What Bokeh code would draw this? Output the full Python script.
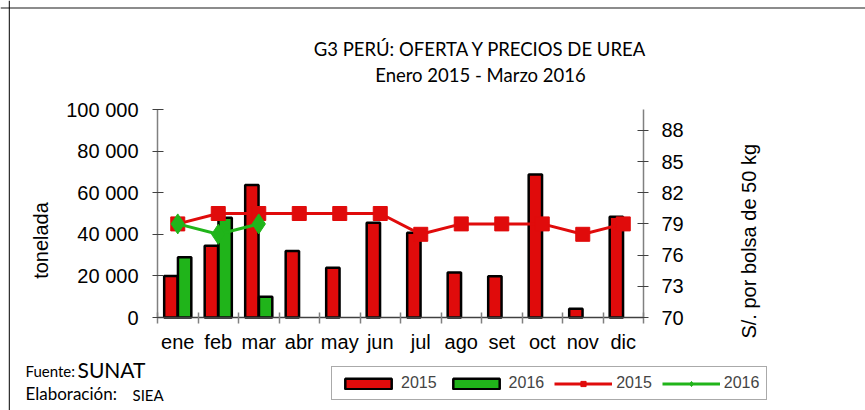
import math
from bokeh.plotting import figure
from bokeh.models import (ColumnDataSource, Range1d, LinearAxis, FixedTicker, Label,
                          Legend, LegendItem, Span)
from bokeh.embed import file_html
from bokeh.resources import INLINE

months = ["ene", "feb", "mar", "abr", "may", "jun", "jul", "ago", "set", "oct", "nov", "dic"]
oferta_2015 = [20000, 34500, 63700, 32000, 23900, 45600, 40800, 21600, 19800, 68700, 4200, 48400]
oferta_2016 = [29000, 47900, 10000]
precio_2015 = [79, 80, 80, 80, 80, 80, 78, 79, 79, 79, 78, 79]
precio_2016 = [79, 78, 79]
left_ticks = [0, 20000, 40000, 60000, 80000, 100000]
left_labels = ["0", "20 000", "40 000", "60 000", "80 000", "100 000"]
right_ticks = [70, 73, 76, 79, 82, 85, 88]

RED = "#E00B0B"
GREEN = "#20B41A"
AX = "#808080"

W, H = 865, 410
# pixel geometry of the plotting area (page pixels)
FL, FR, FT, FB = 157.0, 643.0, 109.0, 317.0
XU = (FR - FL) / 12.0            # px per month
YU = (FB - FT) / 100000.0        # px per tonne
PU = (FB - FT) / 20.0            # px per sol

x_range = Range1d(-FL / XU, (W - FL) / XU)
y_range = Range1d(-(H - FB) / YU, FB / YU)
p_range = Range1d(70 - (H - FB) / PU, 70 + FB / PU)

xc = [i + 0.5 for i in range(len(months))]
src15 = ColumnDataSource(dict(x=[v - 0.17 for v in xc], xc=xc, y=oferta_2015, p=precio_2015))
src16 = ColumnDataSource(dict(x=[v + 0.17 for v in xc[:len(oferta_2016)]],
                              xc=xc[:len(oferta_2016)], y=oferta_2016, p=precio_2016))

p = figure(width=W, height=H, output_backend="svg", toolbar_location=None,
           x_range=x_range, y_range=y_range,
           min_border=0, min_border_left=0, min_border_right=0, min_border_top=0, min_border_bottom=0)
p.title.visible = False
p.extra_y_ranges = {"precio": p_range}
p.xgrid.visible = False
p.ygrid.visible = False
p.outline_line_color = None
p.background_fill_color = "white"
p.border_fill_color = "white"


def px(page_x):
    return (page_x - FL) / XU


def py(page_y):
    return (FB - page_y) / YU


# frame lines of the picture
p.add_layout(Span(location=py(7.5), dimension="width", line_color="#8c8c8c", line_width=2))
p.add_layout(Span(location=px(8.8), dimension="height", line_color="black", line_width=1))

r15 = p.vbar(x="x", top="y", width=0.33, source=src15, fill_color=RED, line_color="black", line_width=2.5)
r16 = p.vbar(x="x", top="y", width=0.33, source=src16, fill_color=GREEN, line_color="black", line_width=2.5)

l15 = p.line(x="xc", y="p", source=src15, y_range_name="precio", line_color=RED, line_width=3)
m15 = p.scatter(x="xc", y="p", source=src15, y_range_name="precio", marker="square", size=14,
                fill_color=RED, line_color=RED)
l16 = p.line(x="xc", y="p", source=src16, y_range_name="precio", line_color=GREEN, line_width=3)
m16 = p.scatter(x="xc", y="p", source=src16, y_range_name="precio", marker="diamond", size=20,
                fill_color=GREEN, line_color=GREEN)

# x axis
xa = p.xaxis[0]
xa.fixed_location = 0
xa.bounds = (0, 12)
xa.ticker = FixedTicker(ticks=xc, minor_ticks=list(range(0, 13)))
xa.major_label_overrides = {v: m for v, m in zip(xc, months)}
xa.major_tick_line_color = None
xa.major_tick_out = 0
xa.major_tick_in = 0
xa.minor_tick_line_color = AX
xa.minor_tick_in = 5
xa.minor_tick_out = 6
xa.minor_tick_line_width = 1.5
xa.axis_line_color = "#404040"
xa.axis_line_width = 1.5
xa.major_label_text_font = "Liberation Sans"
xa.major_label_text_font_size = "20px"
xa.major_label_text_color = "black"
xa.major_label_standoff = 7

# left axis
ya = p.yaxis[0]
ya.fixed_location = 0
ya.bounds = (0, 100000)
ya.ticker = FixedTicker(ticks=left_ticks)
ya.minor_tick_line_color = None
ya.major_label_overrides = {t: s for t, s in zip(left_ticks, left_labels)}
ya.axis_line_color = AX
ya.axis_line_width = 1.5
ya.major_tick_line_color = "#404040"
ya.major_tick_in = 6
ya.major_tick_out = 5
ya.major_label_text_font = "Liberation Sans"
ya.major_label_text_font_size = "20px"
ya.major_label_text_color = "black"
ya.major_label_standoff = 14

# right axis
ra = LinearAxis(y_range_name="precio", ticker=FixedTicker(ticks=right_ticks))
ra.fixed_location = 12
ra.bounds = (70, 90)
ra.minor_tick_line_color = None
ra.axis_line_color = AX
ra.axis_line_width = 1.5
ra.major_tick_line_color = "#404040"
ra.major_tick_in = 6
ra.major_tick_out = 5
ra.major_label_text_font = "Liberation Sans"
ra.major_label_text_font_size = "20px"
ra.major_label_text_color = "black"
ra.major_label_standoff = 13
p.add_layout(ra, "right")


def lab(text, x, y, size, font="Lato", align="left", angle=0.0):
    p.add_layout(Label(x=px(x), y=py(y), text=text, text_font=font, text_font_size=size,
                       text_align=align, text_baseline="middle", angle=angle, text_color="black"))


lab("G3 PERÚ: OFERTA Y PRECIOS DE UREA", 480, 48, "18.5px", align="center")
lab("Enero 2015 - Marzo 2016", 480, 74, "18.5px", align="center")
lab("tonelada", 40, 240, "20px", font="Liberation Sans", align="center", angle=math.pi / 2)
lab("S/.  por bolsa de 50 kg", 748, 238, "20px", font="Liberation Sans", align="center", angle=math.pi / 2)
lab("Fuente:", 25, 370, "15px")
lab("SUNAT", 77, 369, "21px")
lab("Elaboración:", 25, 393, "17px")
lab("SIEA", 132, 394, "15px")

legend = Legend(items=[
    LegendItem(label="2015", renderers=[r15]),
    LegendItem(label="2016", renderers=[r16]),
    LegendItem(label="2015", renderers=[l15, m15]),
    LegendItem(label="2016", renderers=[l16, m16]),
], orientation="horizontal", location=(331, 10))
legend.glyph_width = 58
legend.glyph_height = 13
legend.label_text_font = "Liberation Sans"
legend.label_text_font_size = "16px"
legend.label_standoff = 4
legend.spacing = 10
legend.padding = 7
legend.margin = 0
legend.border_line_color = "#555555"
legend.border_line_width = 1
legend.background_fill_alpha = 1
p.add_layout(legend, "center")

open("out.html", "w").write(file_html(p, INLINE))
